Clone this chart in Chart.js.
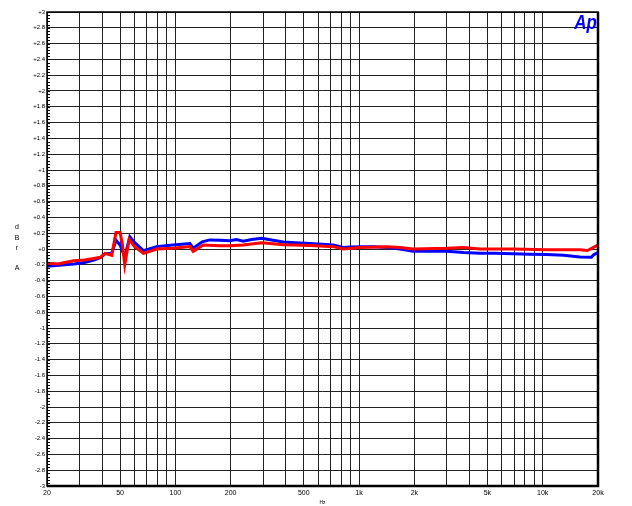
<!DOCTYPE html>
<html><head><meta charset="utf-8">
<script src="https://cdn.jsdelivr.net/npm/chart.js@4.4.1/dist/chart.umd.min.js"></script>
<style>html,body{margin:0;padding:0;background:#fff}#wrap{width:632px;height:506px}</style>
</head><body><div id="wrap"><canvas id="c" width="632" height="506"></canvas></div>
<script>
// --- data ---
const gridFreqs = [20,30,40,50,60,70,80,90,100,200,300,400,500,600,700,800,900,1000,2000,3000,4000,5000,6000,7000,8000,9000,10000,20000];
const labeledFreqs = {20:'20',50:'50',100:'100',200:'200',500:'500',1000:'1k',2000:'2k',5000:'5k',10000:'10k',20000:'20k'};
const blueFreq = [20,25,28,32,36,39,41.4,45,47.5,50,53,56.5,60,67,79,97,120,125,140,154,175,198,215,234,260,295,340,387,450,541,630,724,820,900,1012,1200,1415,1671,1973,2500,3000,3700,4553,5500,6916,8500,10500,13000,15950,18400,19000,20000];
const blueDb   = [-0.22,-0.20,-0.19,-0.17,-0.14,-0.11,-0.06,-0.055,0.11,0.05,-0.10,0.155,0.08,-0.02,0.03,0.05,0.07,0.01,0.09,0.115,0.11,0.105,0.12,0.10,0.12,0.135,0.11,0.09,0.08,0.07,0.06,0.05,0.02,0.025,0.03,0.03,0.02,0.0,-0.03,-0.03,-0.03,-0.045,-0.055,-0.055,-0.06,-0.065,-0.07,-0.08,-0.1,-0.105,-0.07,-0.045];
const redFreq  = [20,23,25,28,32,36,39,41.4,45,47.5,50,51.5,53,56,60,67,79,97,120,125,142,175,198,234,295,387,541,724,820,1012,1415,1671,1973,3000,3700,4553,6916,10500,15950,17500,20000];
const redDb    = [-0.18,-0.19,-0.17,-0.15,-0.14,-0.12,-0.105,-0.055,-0.08,0.21,0.21,0.05,-0.2,0.12,0.03,-0.055,0.0,0.01,0.03,-0.03,0.05,0.04,0.04,0.05,0.08,0.055,0.045,0.03,0.0,0.02,0.03,0.02,0.0,0.01,0.02,0.0,0.0,-0.01,-0.01,-0.02,0.05];
const yMin = -3, yMax = 3, yStep = 0.2;

const toPts = (fs, vs) => fs.map((f,i)=>({x:f,y:vs[i]}));
const FONT = "'Liberation Sans', Arial, sans-serif";

const deco = {
  id:'deco',
  afterDraw(chart){
    const {ctx, chartArea:a, scales:{y}} = chart;
    ctx.save();
    // minor ticks on y axis
    ctx.strokeStyle='#000'; ctx.lineWidth=1;
    for(let v=yMin; v<=yMax+1e-9; v+=0.04){
      const py=Math.round(y.getPixelForValue(v))+0.5;
      ctx.beginPath(); ctx.moveTo(a.left,py); ctx.lineTo(a.left+3,py); ctx.stroke();
    }
    // frame
    ctx.lineWidth=1.5; ctx.strokeRect(a.left,a.top,a.right-a.left,a.bottom-a.top);
    ctx.lineWidth=2.5;
    ctx.beginPath(); ctx.moveTo(a.right,a.top); ctx.lineTo(a.right,a.bottom); ctx.lineTo(a.left,a.bottom); ctx.stroke();
    // y title
    ctx.fillStyle='#000'; ctx.font='7px '+FONT; ctx.textAlign='center'; ctx.textBaseline='middle';
    [['d',227],['B',238],['r',248],['A',268]].forEach(([t,yy])=>ctx.fillText(t,17,yy));
    // logo
    ctx.fillStyle='#0000ff'; ctx.font="italic bold 20px 'Liberation Sans Narrow', 'Liberation Sans', Arial, sans-serif"; ctx.textAlign='right'; ctx.textBaseline='top';
    ctx.save(); ctx.translate(a.right-1,a.top+1); ctx.scale(0.85,1.05); ctx.fillText('Ap',0,0); ctx.restore();
    ctx.restore();
  }
};

new Chart(document.getElementById('c'),{
  type:'line',
  data:{datasets:[
    {data:toPts(redFreq,redDb),borderColor:'#ff0000',borderWidth:3,pointRadius:0,tension:0,order:1},
    {data:toPts(blueFreq,blueDb),borderColor:'#0000ff',borderWidth:3,pointRadius:0,tension:0,order:2}
  ]},
  options:{
    responsive:false,animation:false,
    layout:{padding:{top:12,right:34,left:0,bottom:0}},
    plugins:{legend:{display:false},tooltip:{enabled:false}},
    scales:{
      x:{type:'logarithmic',min:20,max:20000,
        afterBuildTicks(s){s.ticks=gridFreqs.map(v=>({value:v}));},
        afterFit(s){s.height=20;},
        grid:{color:'#222',lineWidth:1,drawTicks:false},
        border:{display:false},
        ticks:{autoSkip:false,maxRotation:0,padding:3,color:'#000',font:{family:FONT,size:7},
          callback:(v)=>labeledFreqs[v]||''},
        title:{display:true,text:'Hz',color:'#000',font:{family:FONT,size:5},padding:{top:0,bottom:0}}
      },
      y:{type:'linear',min:yMin,max:yMax,
        afterBuildTicks(s){const t=[];for(let i=0;i<=30;i++){t.push({value:Math.round((yMin+i*yStep)*10)/10});}s.ticks=t;},
        afterFit(s){s.width=47;},
        grid:{color:'#222',lineWidth:1,drawTicks:false},
        border:{display:false},
        ticks:{padding:2,color:'#000',font:{family:FONT,size:6},
          callback:(v)=>{const r=Math.round(v*10)/10;return (r>=0?'+':'')+r;}}
      }
    }
  },
  plugins:[deco]
});
</script></body></html>
